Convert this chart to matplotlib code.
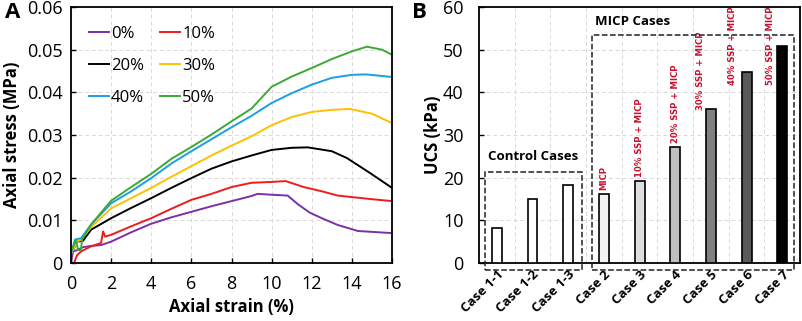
import numpy as np
import matplotlib.pyplot as plt
from matplotlib.patches import Rectangle

plt.rcParams['font.family'] = ['Open Sans', 'DejaVu Sans']

# ---- panel A: stress-strain curves (strain %, stress MPa) ----
s0 = [0, 0.1, 0.3, 0.6, 1.0, 1.5, 2, 3, 4, 5, 6, 7, 8, 9, 9.3, 10, 10.8, 11.3, 11.9, 12.5, 13.3, 14.3, 15, 16]
p0 = [0, 0.0027, 0.0030, 0.0037, 0.0040, 0.0042, 0.0050, 0.0072, 0.0092, 0.0107, 0.0120, 0.0133, 0.0145, 0.0157, 0.0162, 0.0160, 0.0158, 0.0138, 0.0118, 0.0105, 0.0089, 0.0075, 0.0073, 0.0070]

s10 = [0.15, 0.3, 0.5, 1.0, 1.5, 1.6, 1.7, 2, 3, 4, 5, 6, 7, 8, 9, 10, 10.7, 11.6, 12.5, 13.3, 14.9, 16]
p10 = [0, 0.0018, 0.0027, 0.0039, 0.0047, 0.0074, 0.0062, 0.0066, 0.0086, 0.0105, 0.0127, 0.0148, 0.0162, 0.0178, 0.0188, 0.0190, 0.0192, 0.0178, 0.0168, 0.0158, 0.0150, 0.0145]

s20 = [0, 0.3, 0.6, 1.0, 2, 3, 4, 5, 6, 7, 8, 9, 10, 11, 11.8, 13, 13.75, 14.9, 16]
p20 = [0.002, 0.0050, 0.0052, 0.0078, 0.0105, 0.0129, 0.0152, 0.0176, 0.0199, 0.0221, 0.0238, 0.0252, 0.0265, 0.0270, 0.0271, 0.0262, 0.0246, 0.0211, 0.0176]

s30 = [0, 0.3, 0.5, 1.0, 2, 3, 4, 5, 6, 7, 8, 9, 10, 11, 12, 13, 13.9, 15, 16]
p30 = [0.002, 0.0050, 0.0055, 0.0084, 0.0128, 0.0152, 0.0176, 0.0202, 0.0227, 0.0252, 0.0275, 0.0297, 0.0323, 0.0342, 0.0354, 0.0359, 0.0361, 0.0350, 0.0328]

s40 = [0, 0.2, 0.5, 1.0, 2, 3, 4, 5, 6, 7, 8, 9, 10, 11, 12, 13, 14, 14.7, 16]
p40 = [0.002, 0.0055, 0.0058, 0.0090, 0.0140, 0.0168, 0.0199, 0.0233, 0.0262, 0.0290, 0.0318, 0.0345, 0.0375, 0.0398, 0.0418, 0.0434, 0.0441, 0.0442, 0.0436]

s50 = [0, 0.25, 0.35, 0.5, 0.55, 1.0, 2, 3, 4, 5, 6, 7, 8, 9, 10, 11, 12, 13, 14, 14.75, 15.5, 16]
p50 = [0.0027, 0.0054, 0.0030, 0.0030, 0.0055, 0.0090, 0.0146, 0.0178, 0.0209, 0.0244, 0.0272, 0.0301, 0.0332, 0.0362, 0.0413, 0.0437, 0.0457, 0.0478, 0.0496, 0.0507, 0.0500, 0.0488]

curves = [(s0, p0, '0%', '#7b30a8'), (s10, p10, '10%', '#ee1c1c'),
          (s20, p20, '20%', '#000000'), (s30, p30, '30%', '#ffc000'),
          (s40, p40, '40%', '#1a9fe3'), (s50, p50, '50%', '#3aaa35')]

# ---- panel B: UCS bars ----
cases = ['Case 1-1', 'Case 1-2', 'Case 1-3', 'Case 2', 'Case 3', 'Case 4', 'Case 5', 'Case 6', 'Case 7']
ucs = [8.2, 15.0, 18.2, 16.2, 19.2, 27.2, 36.2, 44.8, 50.8]
fills = ['white', 'white', 'white', '#f2f2f2', '#dedede', '#bfbfbf', '#808080', '#595959', '#000000']
notes = ['MICP', '10% SSP + MICP', '20% SSP + MICP', '30% SSP + MICP', '40% SSP + MICP', '50% SSP + MICP']
note_x = [3, 4, 5, 5.7, 6.6, 7.67]
note_y = [17.1, 20.2, 28.1, 35.9, 41.7, 41.7]

fig = plt.figure(figsize=(8.03, 3.21), dpi=100)
axA = fig.add_axes([0.0884, 0.1807, 0.3998, 0.7975])
axB = fig.add_axes([0.5965, 0.1807, 0.3998, 0.7975])

lines = []
for s, p, lab, c in curves:
    ln, = axA.plot(s, p, color=c, lw=1.4, label=lab)
    lines.append(ln)
axA.set_xlim(0, 16)
axA.set_ylim(0, 0.06)
axA.set_xticks(np.arange(0, 17, 2))
axA.set_yticks(np.arange(0, 0.061, 0.01))
axA.set_yticklabels(['0', '0.01', '0.02', '0.03', '0.04', '0.05', '0.06'])
axA.grid(True, ls=(0, (4, 3)), color='#d9d9d9', lw=0.7)
axA.set_axisbelow(True)
axA.set_xlabel('Axial strain (%)', fontsize=12, fontweight='bold', labelpad=3)
axA.set_ylabel('Axial stress (MPa)', fontsize=12, fontweight='bold', labelpad=4)
order = [0, 2, 4, 1, 3, 5]
axA.legend([lines[i] for i in order], [curves[i][2] for i in order], ncol=2,
           loc='upper left', bbox_to_anchor=(0.056, 0.926), frameon=False,
           fontsize=12, handlelength=1.2, handletextpad=0.1, columnspacing=1.0,
           labelspacing=0.95, borderpad=0, borderaxespad=0)

x = np.arange(len(cases))
axB.bar(x, ucs, width=0.28, color=fills, edgecolor='black', lw=1.2, zorder=3)
axB.set_xlim(-0.5, 8.5)
axB.set_ylim(0, 60)
axB.set_xticks(x)
axB.set_xticklabels(cases, rotation=45, ha='right', rotation_mode='anchor',
                    fontsize=9.5, fontweight='bold')
axB.set_xticks(x[:-1] + 0.5, minor=True)
axB.tick_params(axis='x', which='minor', length=0)
axB.set_yticks(np.arange(0, 61, 10))
axB.grid(True, axis='y', which='major', ls=(0, (4, 3)), color='#d9d9d9', lw=0.7)
axB.grid(True, axis='x', which='minor', ls=(0, (4, 3)), color='#d9d9d9', lw=0.7)
axB.set_axisbelow(True)
axB.set_ylabel('UCS (kPa)', fontsize=12, fontweight='bold', labelpad=1)

for xi, yi, t in zip(note_x, note_y, notes):
    axB.text(xi, yi, t, rotation=90, ha='center', va='bottom', color='#c8102e',
             fontsize=6.1, fontweight='bold', family='DejaVu Sans',
             clip_on=False)

axB.add_patch(Rectangle((-0.33, -1.6), 2.72, 22.9, fill=False, ls='--', lw=1.1,
                        edgecolor='#222222', clip_on=False, zorder=4))
axB.add_patch(Rectangle((2.67, -1.6), 5.66, 55.0, fill=False, ls='--', lw=1.1,
                        edgecolor='#222222', clip_on=False, zorder=4))
axB.text(-0.25, 23.5, 'Control Cases', fontsize=9.5, fontweight='bold', va='bottom')
axB.text(2.75, 55.0, 'MICP Cases', fontsize=9.5, fontweight='bold', va='bottom')

for ax in (axA, axB):
    ax.tick_params(direction='in', labelsize=13, width=1)
    for sp in ax.spines.values():
        sp.set_linewidth(1.3)
axA.tick_params(axis='x', pad=9)
axA.tick_params(axis='y', pad=6)
axB.tick_params(axis='y', pad=11)
axB.tick_params(axis='x', labelsize=9.5)

fig.text(0.006, 0.995, 'A', fontsize=16, fontweight='bold', va='top')
fig.text(0.513, 0.995, 'B', fontsize=16, fontweight='bold', va='top')

fig.savefig('out.png', dpi=100)
